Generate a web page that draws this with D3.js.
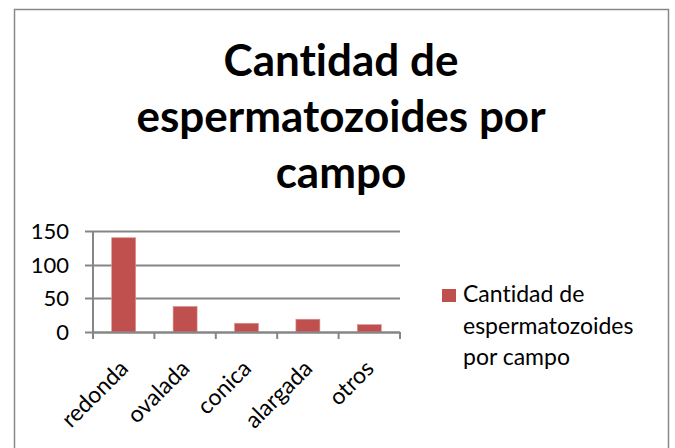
<!DOCTYPE html>
<html>
<head>
<meta charset="utf-8">
<script src="https://cdn.jsdelivr.net/npm/d3@7"></script>
<style>
  html, body { margin: 0; padding: 0; background: #fff; }
  svg { display: block; font-family: Lato, "Open Sans", sans-serif; font-variant-ligatures: none; }
</style>
</head>
<body>
<svg id="chart" width="675" height="448"></svg>
<script>
const categories = ["redonda", "ovalada", "conica", "alargada", "otros"];
const values = [140, 38, 13, 19, 11];
const yTicks = [0, 50, 100, 150];
const seriesName = "Cantidad de espermatozoides por campo";
const titleLines = ["Cantidad de", "espermatozoides por", "campo"];
const legendLines = ["Cantidad de", "espermatozoides", "por campo"];

const svg = d3.select("#chart");
const barColor = "#C0504D";
const axisColor = "#868686";

// outer chart border
svg.append("rect")
  .attr("x", 14.5).attr("y", 9.5)
  .attr("width", 654).attr("height", 460)
  .attr("fill", "#fff").attr("stroke", "#888").attr("stroke-width", 1.5);

// title
svg.append("g").selectAll("text").data(titleLines).join("text")
  .attr("x", 341).attr("y", (d, i) => 76 + i * 56)
  .attr("text-anchor", "middle")
  .attr("font-weight", "bold").attr("font-size", 44)
  .attr("fill", "#000")
  .text(d => d);

const plot = { left: 93, right: 400, top: 231, bottom: 332 };

const xOuter = d3.scaleBand().domain(categories).range([plot.left, plot.right]);
const y = d3.scaleLinear().domain([0, 150]).range([plot.bottom, plot.top]);

// gridlines
svg.append("g").selectAll("line").data(yTicks).join("line")
  .attr("x1", plot.left - 8).attr("x2", plot.right)
  .attr("y1", d => Math.round(y(d)) + 0.5).attr("y2", d => Math.round(y(d)) + 0.5)
  .attr("stroke", axisColor).attr("stroke-width", 2);

// y axis line
svg.append("line")
  .attr("x1", plot.left).attr("x2", plot.left)
  .attr("y1", plot.top).attr("y2", plot.bottom)
  .attr("stroke", axisColor).attr("stroke-width", 2);

// y tick labels
svg.append("g").selectAll("text").data(yTicks).join("text")
  .attr("x", 69).attr("y", d => y(d) + 8)
  .attr("text-anchor", "end").attr("font-size", 22).attr("fill", "#000")
  .text(d => d);

// bars
svg.append("g").selectAll("rect").data(values).join("rect")
  .attr("x", (d, i) => xOuter(categories[i]) + (xOuter.bandwidth() - 24) / 2)
  .attr("width", 24)
  .attr("y", d => y(d)).attr("height", d => plot.bottom - y(d))
  .attr("fill", barColor).attr("stroke", "#d99694").attr("stroke-width", 0.6);

// x axis line
svg.append("line")
  .attr("x1", plot.left).attr("x2", plot.right)
  .attr("y1", plot.bottom + 0.5).attr("y2", plot.bottom + 0.5)
  .attr("stroke", axisColor).attr("stroke-width", 2);

// x tick marks at category boundaries
const bounds = categories.map(c => xOuter(c)).concat([plot.right]);
svg.append("g").selectAll("line").data(bounds).join("line")
  .attr("x1", d => d).attr("x2", d => d)
  .attr("y1", plot.bottom).attr("y2", plot.bottom + 7)
  .attr("stroke", axisColor).attr("stroke-width", 2);

// x labels rotated
svg.append("g").selectAll("text").data(categories).join("text")
  .attr("transform", c => `translate(${xOuter(c) + xOuter.bandwidth() / 2 + 6},${plot.bottom + 38}) rotate(-45)`)
  .attr("text-anchor", "end").attr("font-size", 23).attr("fill", "#000")
  .text(c => c);

// legend
svg.append("rect")
  .attr("x", 442).attr("y", 289).attr("width", 14).attr("height", 13)
  .attr("fill", barColor);
svg.append("g").selectAll("text").data(legendLines).join("text")
  .attr("x", 463).attr("y", (d, i) => 302 + i * 31.7)
  .attr("font-size", 23).attr("fill", "#000")
  .text(d => d);
</script>
</body>
</html>
